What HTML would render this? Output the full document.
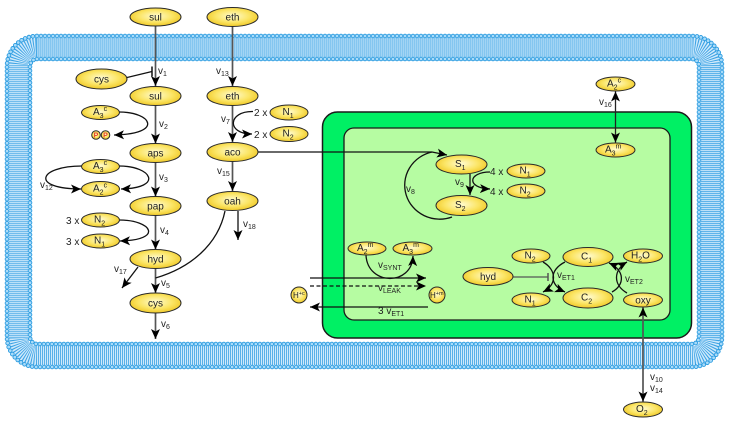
<!DOCTYPE html>
<html><head><meta charset="utf-8"><style>
html,body{margin:0;padding:0;background:#fff;}
svg{display:block;}
text{font-family:"Liberation Sans",sans-serif;fill:#222;}
</style></head><body>
<svg width="733" height="421" viewBox="0 0 733 421" xmlns="http://www.w3.org/2000/svg">
<defs>
<radialGradient id="yg" cx="50%" cy="45%" r="60%">
<stop offset="0" stop-color="#fffbd0"/><stop offset="0.55" stop-color="#fbe565"/><stop offset="1" stop-color="#eec31a"/>
</radialGradient>
<marker id="ah" markerUnits="userSpaceOnUse" markerWidth="12" markerHeight="10" refX="10" refY="4.5" orient="auto-start-reverse">
<path d="M0,0 L10,4.5 L0,9 L2.5,4.5 z" fill="#000"/>
</marker>
</defs>

<!-- membrane -->
<rect x="18.5" y="47.5" width="692" height="308" rx="18" fill="none" stroke="#cfe9fb" stroke-width="19"/>
<rect x="18.5" y="47.5" width="692" height="308" rx="18" fill="none" stroke="#3aa2e4" stroke-width="19" stroke-dasharray="0.8 1.2"/>
<rect x="7" y="36" width="715" height="331" rx="30" fill="none" stroke="#2a9be0" stroke-width="4.6" stroke-dasharray="0 4" stroke-linecap="round"/>
<rect x="7" y="36" width="715" height="331" rx="30" fill="none" stroke="#a9dbf9" stroke-width="2.8" stroke-dasharray="0 4" stroke-linecap="round"/>
<rect x="30" y="59" width="669" height="285" rx="7" fill="none" stroke="#2a9be0" stroke-width="4.6" stroke-dasharray="0 4" stroke-linecap="round"/>
<rect x="30" y="59" width="669" height="285" rx="7" fill="none" stroke="#a9dbf9" stroke-width="2.8" stroke-dasharray="0 4" stroke-linecap="round"/>

<!-- mitochondrion -->
<rect x="322.5" y="112" width="369" height="226" rx="15" fill="#00f064" stroke="#1a1a1a" stroke-width="1.5"/>
<rect x="344" y="128" width="326" height="192" rx="10" fill="#b6fca2" stroke="#1a1a1a" stroke-width="1.3"/>

<!-- straight gray arrows -->
<g stroke="#555" stroke-width="1.7" fill="none" marker-end="url(#ah)">
<path d="M155.5,26.5 V86"/>
<path d="M155.5,105.5 V143.5"/>
<path d="M155.5,162.5 V196.5"/>
<path d="M155.5,215.5 V249.5"/>
<path d="M155.5,268.5 V293"/>
<path d="M155.5,313 V339"/>
<path d="M232.5,26.5 V86"/>
<path d="M232.5,105.5 V142"/>
<path d="M232.5,162 V191"/>
</g>
<g stroke="#555" stroke-width="1.7" fill="none">
<path d="M643,307.5 V401.5" marker-start="url(#ah)" marker-end="url(#ah)"/>
<path d="M615.5,91.5 V142.5" marker-start="url(#ah)" marker-end="url(#ah)" stroke="#222" stroke-width="1.3"/>
</g>

<!-- black curves -->
<g stroke="#111" stroke-width="1.3" fill="none">
<path d="M238,211 V240" marker-end="url(#ah)"/>
<path d="M138,267 L122,288" marker-end="url(#ah)"/>
<path d="M225,211 C218,245 190,268 155.5,278"/>
<path d="M127,77.5 L152,71.5"/>
<path d="M152,66.5 V76.5" stroke-width="1.5"/>
<path d="M119,112 C152,112 164,134 114,135" marker-end="url(#ah)"/>
<path d="M119,166 C152,166 164,188 121,189" marker-end="url(#ah)"/>
<path d="M82,166 C38,166 30,189 81,189" marker-end="url(#ah)"/>
<path d="M119,220 C152,220 164,240 120,241" marker-end="url(#ah)"/>
<path d="M253,111.5 C228,111 226,134 252,134" marker-end="url(#ah)"/>
<path d="M258,152 H432 L447,155" marker-end="url(#ah)"/>
<path d="M452,217 A35,34 0 1 1 432,152"/>
<path d="M470,174 V195" marker-end="url(#ah)"/>
<path d="M490,172 C468,172 466,188 490,189" marker-end="url(#ah)"/>
<path d="M366,255.5 C368,286 412,286 413,256" marker-end="url(#ah)"/>
<path d="M310,278 H426" marker-end="url(#ah)"/>
<path d="M310,286 H426" stroke-dasharray="4 2.5" marker-end="url(#ah)"/>
<path d="M428,307 H310" marker-end="url(#ah)"/>
<path d="M513,277 H548" stroke="#555"/>
<path d="M548,273 V281" stroke="#555" stroke-width="1.5"/>
<path d="M543,262 C557,270 557,285 543,292" marker-end="url(#ah)"/>
<path d="M565,262 C549,270 549,285 565,292" marker-end="url(#ah)"/>
<path d="M612,292 C625,285 625,270 609,263" marker-end="url(#ah)"/>
<path d="M627,293 C613,285 613,270 627,262" marker-end="url(#ah)"/>
</g>

<!-- nodes -->
<g fill="url(#yg)" stroke="#2a2a2a" stroke-width="1">
<ellipse cx="155.5" cy="17" rx="25.5" ry="9"/>
<ellipse cx="232.5" cy="17" rx="25.5" ry="9.5"/>
<ellipse cx="101.5" cy="79" rx="25.5" ry="10"/>
<ellipse cx="155.5" cy="96" rx="25.5" ry="9.5"/>
<ellipse cx="232.5" cy="96" rx="25.5" ry="9.5"/>
<ellipse cx="155.5" cy="153" rx="25.5" ry="9.5"/>
<ellipse cx="232.5" cy="152" rx="25.5" ry="9.5"/>
<ellipse cx="155.5" cy="206" rx="25.5" ry="9.5"/>
<ellipse cx="232.5" cy="201" rx="25.5" ry="9.5"/>
<ellipse cx="155.5" cy="259" rx="25.5" ry="9.5"/>
<ellipse cx="155.5" cy="303" rx="25.5" ry="10"/>
<ellipse cx="461.5" cy="164.5" rx="25.5" ry="9.5"/>
<ellipse cx="461.5" cy="205.5" rx="25.5" ry="10"/>
<ellipse cx="488" cy="276.5" rx="25" ry="9"/>
<ellipse cx="588" cy="257" rx="25" ry="9.5"/>
<ellipse cx="588" cy="298" rx="25" ry="10"/>
<ellipse cx="100.5" cy="112.5" rx="19" ry="7"/>
<ellipse cx="100.5" cy="166.5" rx="19" ry="7"/>
<ellipse cx="100.5" cy="189" rx="19" ry="7.5"/>
<ellipse cx="100.5" cy="220" rx="19" ry="7"/>
<ellipse cx="100.5" cy="241" rx="19" ry="7"/>
<ellipse cx="289" cy="112.5" rx="19" ry="7.5"/>
<ellipse cx="289" cy="134" rx="19" ry="7.5"/>
<ellipse cx="615.5" cy="84" rx="19.5" ry="7"/>
<ellipse cx="615.5" cy="150" rx="19.5" ry="7"/>
<ellipse cx="526" cy="171" rx="19" ry="7"/>
<ellipse cx="526" cy="191" rx="19" ry="7"/>
<ellipse cx="367" cy="248.5" rx="19" ry="6.5"/>
<ellipse cx="412.5" cy="248.5" rx="19.5" ry="6.5"/>
<ellipse cx="531" cy="256" rx="19" ry="7"/>
<ellipse cx="531" cy="300" rx="19" ry="7"/>
<ellipse cx="643" cy="256" rx="19.5" ry="7"/>
<ellipse cx="643" cy="300" rx="19.5" ry="7"/>
<ellipse cx="643" cy="409.5" rx="19.5" ry="7.5"/>
<circle cx="96" cy="135" r="4.3"/>
<circle cx="105.5" cy="135" r="4.3"/>
<circle cx="299" cy="295" r="8"/>
<circle cx="437" cy="295" r="8"/>
</g>

<!-- node labels -->
<g font-size="10" text-anchor="middle">
<text x="155.5" y="20.5">sul</text>
<text x="232.5" y="20.5">eth</text>
<text x="101.5" y="82.5">cys</text>
<text x="155.5" y="99.5">sul</text>
<text x="232.5" y="99.5">eth</text>
<text x="155.5" y="156.5">aps</text>
<text x="232.5" y="155.5">aco</text>
<text x="155.5" y="209.5">pap</text>
<text x="232.5" y="204.5">oah</text>
<text x="155.5" y="262.5">hyd</text>
<text x="155.5" y="306.5">cys</text>
<text x="488" y="280">hyd</text>
<text x="643" y="303.5">oxy</text>
</g>
<g font-size="10">
<text x="455" y="167">S<tspan font-size="7" dy="3">1</tspan></text>
<text x="455" y="208">S<tspan font-size="7" dy="3">2</tspan></text>
<text x="581" y="259.5">C<tspan font-size="7" dy="3">1</tspan></text>
<text x="581" y="300.5">C<tspan font-size="7" dy="3">2</tspan></text>
<text x="93" y="115">A<tspan font-size="7" dy="3">3</tspan><tspan font-size="7" dy="-7">c</tspan></text>
<text x="93" y="169">A<tspan font-size="7" dy="3">3</tspan><tspan font-size="7" dy="-7">c</tspan></text>
<text x="93" y="191.5">A<tspan font-size="7" dy="3">2</tspan><tspan font-size="7" dy="-7">c</tspan></text>
<text x="94" y="222.5">N<tspan font-size="7" dy="3">2</tspan></text>
<text x="94" y="243.5">N<tspan font-size="7" dy="3">1</tspan></text>
<text x="282.5" y="115">N<tspan font-size="7" dy="3">1</tspan></text>
<text x="282.5" y="136.5">N<tspan font-size="7" dy="3">2</tspan></text>
<text x="607" y="86.5">A<tspan font-size="7" dy="3">2</tspan><tspan font-size="7" dy="-7">c</tspan></text>
<text x="605" y="152.5">A<tspan font-size="7" dy="3">3</tspan><tspan font-size="7" dy="-7">m</tspan></text>
<text x="519.5" y="173.5">N<tspan font-size="7" dy="3">1</tspan></text>
<text x="519.5" y="193.5">N<tspan font-size="7" dy="3">2</tspan></text>
<text x="357" y="251">A<tspan font-size="7" dy="3">2</tspan><tspan font-size="7" dy="-7">m</tspan></text>
<text x="402.5" y="251">A<tspan font-size="7" dy="3">3</tspan><tspan font-size="7" dy="-7">m</tspan></text>
<text x="524.5" y="258.5">N<tspan font-size="7" dy="3">2</tspan></text>
<text x="524.5" y="302.5">N<tspan font-size="7" dy="3">1</tspan></text>
<text x="631" y="258.5">H<tspan font-size="7" dy="3">2</tspan><tspan dy="-3">O</tspan></text>
<text x="636" y="412">O<tspan font-size="7" dy="3">2</tspan></text>
<text x="293" y="298" font-size="8">H<tspan font-size="5.5" dy="-3">+c</tspan></text>
<text x="430" y="298" font-size="8">H<tspan font-size="5.5" dy="-3">+m</tspan></text>
</g>
<g font-size="7" font-weight="bold" fill="#e0302a" text-anchor="middle">
<text x="96" y="137.5" style="fill:#e8402a">P</text>
<text x="105.5" y="137.5" style="fill:#e8402a">P</text>
</g>

<!-- multipliers -->
<g font-size="10">
<text x="254" y="116">2 x</text>
<text x="254" y="138">2 x</text>
<text x="66" y="224">3 x</text>
<text x="66" y="245">3 x</text>
<text x="490" y="175">4 x</text>
<text x="490" y="195">4 x</text>
</g>

<!-- reaction labels -->
<g font-size="10" style="fill:#333">
<text x="158" y="74">v<tspan font-size="7" dy="2">1</tspan></text>
<text x="159" y="127">v<tspan font-size="7" dy="2">2</tspan></text>
<text x="159" y="180">v<tspan font-size="7" dy="2">3</tspan></text>
<text x="160" y="233">v<tspan font-size="7" dy="2">4</tspan></text>
<text x="161" y="286">v<tspan font-size="7" dy="2">5</tspan></text>
<text x="161" y="327">v<tspan font-size="7" dy="2">6</tspan></text>
<text x="40" y="188">v<tspan font-size="7" dy="2">12</tspan></text>
<text x="114" y="272">v<tspan font-size="7" dy="2">17</tspan></text>
<text x="216" y="74">v<tspan font-size="7" dy="2">13</tspan></text>
<text x="221" y="122">v<tspan font-size="7" dy="2">7</tspan></text>
<text x="217" y="174">v<tspan font-size="7" dy="2">15</tspan></text>
<text x="243" y="227">v<tspan font-size="7" dy="2">18</tspan></text>
<text x="599" y="105">v<tspan font-size="7" dy="2">16</tspan></text>
<text x="406" y="192">v<tspan font-size="7" dy="2">8</tspan></text>
<text x="455" y="185">v<tspan font-size="7" dy="2">9</tspan></text>
<text x="378" y="268">v<tspan font-size="7" dy="2">SYNT</tspan></text>
<text x="378" y="291">v<tspan font-size="7" dy="2">LEAK</tspan></text>
<text x="378" y="314">3 v<tspan font-size="7" dy="2">ET1</tspan></text>
<text x="557" y="278">v<tspan font-size="7" dy="2">ET1</tspan></text>
<text x="625" y="282">v<tspan font-size="7" dy="2">ET2</tspan></text>
<text x="650" y="380">v<tspan font-size="7" dy="2">10</tspan></text>
<text x="650" y="391">v<tspan font-size="7" dy="2">14</tspan></text>
</g>
</svg>
</body></html>
